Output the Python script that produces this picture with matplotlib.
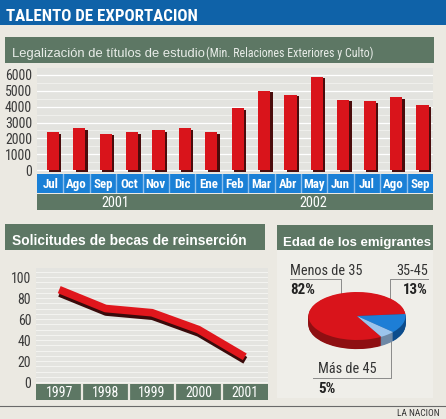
import matplotlib
matplotlib.use('Agg')
import matplotlib.pyplot as plt
from matplotlib import font_manager
from matplotlib.patches import Rectangle
from matplotlib.transforms import offset_copy

# ---------------- data ----------------
months = ['Jul', 'Ago', 'Sep', 'Oct', 'Nov', 'Dic', 'Ene',
          'Feb', 'Mar', 'Abr', 'May', 'Jun', 'Jul', 'Ago', 'Sep']
titulos = [2400, 2650, 2300, 2400, 2500, 2650, 2400,
           3900, 5000, 4750, 5900, 4450, 4350, 4600, 4100]
bar_yticks = [0, 1000, 2000, 3000, 4000, 5000, 6000]
year_groups = ['2001', '2002']
year_group_sizes = [7, 8]

becas_years = ['1997', '1998', '1999', '2000', '2001']
becas = [88, 70, 66, 50, 24]
line_yticks = [0, 20, 40, 60, 80, 100]

edad_labels = ['Menos de 35', '35-45', 'Más de 45']
edad_pct = [82, 13, 5]

# ---------------- fonts ----------------
names = {f.name for f in font_manager.fontManager.ttflist}
cands = ['Liberation Sans Narrow', 'Roboto Condensed', 'DejaVu Sans Condensed',
         'Open Sans Condensed', 'Noto Sans Condensed', 'Arial Narrow']
cond = next((c for c in cands if c in names), None)
if cond is None:
    NARROW = ['Liberation Sans', 'DejaVu Sans']
    NS = 0.84          # shrink factor to mimic narrow widths
else:
    NARROW = [cond, 'Liberation Sans', 'DejaVu Sans']
    NS = 1.0
SANS = ['Liberation Sans', 'DejaVu Sans']

# ---------------- style ----------------
W, H = 446, 419
PAGE = '#ebe9e2'
BLUE_T = '#0f62a8'
GREEN = '#5d7764'
RED = '#d9141b'
BLUE_M = '#1a80d6'

fig = plt.figure(figsize=(W / 100, H / 100), dpi=100, facecolor=PAGE)


def add_ax(x0, y0, x1, y1, **kw):
    return fig.add_axes([x0 / W, 1 - y1 / H, (x1 - x0) / W, (y1 - y0) / H], **kw)


bg = add_ax(0, 0, W, H)
bg.set_xlim(0, W)
bg.set_ylim(H, 0)
bg.axis('off')


def rect(x0, y0, x1, y1, color, **kw):
    bg.add_patch(Rectangle((x0, y0), x1 - x0, y1 - y0, facecolor=color,
                           edgecolor='none', **kw))


# title bar
rect(0, 0, W, 25, BLUE_T)
bg.text(6, 21, 'TALENTO DE EXPORTACION', color='white',
        fontsize=12.2 if cond else 9.9,
        fontweight='bold', family=NARROW, va='baseline', ha='left')

# headers
rect(5, 37, 434, 63, GREEN)
bg.text(12, 57, 'Legalización de títulos de estudio', color='#e9ede9',
        fontsize=9.4, family=SANS, va='baseline')
bg.text(206, 57, '(Min. Relaciones Exteriores y Culto)', color='#e9ede9',
        fontsize=8.6 * NS, family=NARROW, va='baseline')

rect(5, 224, 265, 250, GREEN)
bg.text(12, 245, 'Solicitudes de becas de reinserción', color='white',
        fontsize=9.9, fontweight='bold', family=SANS, va='baseline')

rect(277, 250, 433, 398, '#efeee9')
rect(277, 225, 433, 250, GREEN)
bg.text(283, 246, 'Edad de los emigrantes', color='white',
        fontsize=9.5, fontweight='bold', family=SANS, va='baseline')

# bottom rule and credit
bg.plot([0, W], [406, 406], color='#6a6a6a', lw=0.8)
bg.text(440, 416, 'LA NACION', color='#333333', fontsize=6.8 * NS,
        family=NARROW, ha='right', va='baseline')

# ---------------- bar chart ----------------
n = len(months)
xs = list(range(n))
ax1 = add_ax(37, 68, 433, 173)
ax1.set_facecolor('#e3e3df')
ax1.set_xlim(-0.5, n - 0.5)
ax1.set_ylim(-189, 6442)
ax1.set_yticks(bar_yticks)
ax1.set_yticks([500, 1500, 2500, 3500, 4500, 5500], minor=True)
ax1.grid(axis='y', which='major', color='white', lw=0.9)
ax1.grid(axis='y', which='minor', color='#f2f2ef', lw=0.6)
ax1.set_axisbelow(True)
ax1.set_xticks([])
for s in ax1.spines.values():
    s.set_visible(False)
ax1.tick_params(axis='y', which='both', length=0, pad=3.5,
                labelsize=10 * NS, labelcolor='#3a3a3a')
for lab in ax1.get_yticklabels():
    lab.set_family(NARROW)
shadow_tr = offset_copy(ax1.transData, fig=fig, x=2.5, y=-1.5, units='dots')
bx = [x + 0.1 for x in xs]
ax1.bar(bx, titulos, width=0.46, color='#4a0c0c', transform=shadow_tr, zorder=2)
ax1.bar(bx, titulos, width=0.46, color=RED, zorder=3)

# month strip
axm = add_ax(37, 174, 433, 193)
axm.set_facecolor(BLUE_M)
axm.set_xlim(-0.5, n - 0.5)
axm.set_ylim(0, 1)
axm.set_xticks([])
axm.set_yticks([])
for s in axm.spines.values():
    s.set_visible(False)
for i in range(1, n):
    axm.axvline(i - 0.5, color='#8ec0ee', lw=1)
for i, mo in enumerate(months):
    axm.text(i, 0.45, mo, color='white', fontsize=9.3 * NS, family=NARROW,
             fontweight='bold', ha='center', va='center')

# year strip
axy = add_ax(37, 194, 433, 210)
axy.set_facecolor(GREEN)
axy.set_xlim(-0.5, n - 0.5)
axy.set_ylim(0, 1)
axy.set_xticks([])
axy.set_yticks([])
for s in axy.spines.values():
    s.set_visible(False)
start = 0
for g, size in zip(year_groups, year_group_sizes):
    center = start + (size - 1) / 2 - 0.55
    axy.text(center, 0.45, g, color='white', fontsize=10.3 * NS, family=NARROW,
             ha='center', va='center')
    start += size

# ---------------- line chart ----------------
m = len(becas_years)
lx = list(range(m))
ax2 = add_ax(36, 268, 268, 383)
ax2.set_facecolor('#e4e4e0')
ax2.set_xlim(-0.5, m - 0.5)
ax2.set_ylim(-0.95, 108.6)
ax2.set_yticks(line_yticks)
ax2.set_yticks(list(range(5, 106, 5)), minor=True)
ax2.grid(axis='y', which='both', color='#f4f4f1', lw=0.7)
ax2.set_axisbelow(True)
ax2.set_xticks([])
for s in ax2.spines.values():
    s.set_visible(False)
ax2.tick_params(axis='y', which='both', length=0, pad=3.5,
                labelsize=10 * NS, labelcolor='#3a3a3a')
for lab in ax2.get_yticklabels():
    lab.set_family(NARROW)
sh_tr = offset_copy(ax2.transData, fig=fig, x=0.5, y=-3.5, units='dots')
ax2.plot(lx, becas, color='#3a0b0b', lw=5.5, transform=sh_tr,
         solid_capstyle='butt', solid_joinstyle='round', zorder=3)
ax2.plot(lx, becas, color='#e0161c', lw=5.5, solid_capstyle='butt',
         solid_joinstyle='round', zorder=4)

axy2 = add_ax(36, 384, 268, 400)
axy2.set_facecolor(GREEN)
axy2.set_xlim(-0.5, m - 0.5)
axy2.set_ylim(0, 1)
axy2.set_xticks([])
axy2.set_yticks([])
for s in axy2.spines.values():
    s.set_visible(False)
for i in range(1, m):
    axy2.axvline(i - 0.5, color=PAGE, lw=1.6)
for i, yl in enumerate(becas_years):
    axy2.text(i, 0.45, yl, color='white', fontsize=10 * NS, family=NARROW,
              ha='center', va='center')

# ---------------- pie chart ----------------
LS = 10.3 * NS
bg.plot([290, 341, 341], [279, 279, 296], color='#8a8a8a', lw=0.7)
bg.text(290, 275, edad_labels[0], fontsize=LS, family=NARROW,
        color='#333333', va='baseline')
bg.text(290, 294, f'{edad_pct[0]}%', fontsize=LS + 0.5, family=NARROW,
        fontweight='bold', color='#222222', va='baseline')
bg.plot([428, 390, 390], [279, 279, 315], color='#8a8a8a', lw=0.7)
bg.text(428, 275, edad_labels[1], fontsize=LS, family=NARROW,
        color='#333333', va='baseline', ha='right')
bg.text(428, 294, f'{edad_pct[1]}%', fontsize=LS + 0.5, family=NARROW,
        fontweight='bold', color='#222222', va='baseline', ha='right')
bg.plot([313, 391, 391], [378, 378, 340], color='#8a8a8a', lw=0.7)
bg.text(318, 373, edad_labels[2], fontsize=LS, family=NARROW,
        color='#333333', va='baseline')
bg.text(318, 393, f'{edad_pct[2]}%', fontsize=LS + 0.5, family=NARROW,
        fontweight='bold', color='#222222', va='baseline')

axp = add_ax(300, 276, 414, 356)
axp.patch.set_alpha(0)
top_colors = [RED, '#1d7ed6', '#9cc4ec']
side_colors = ['#8e0f12', '#0c4c8c', '#6d88a6']
depth = 0.38
layers = 14
for k in range(layers, 0, -1):
    axp.pie(edad_pct, colors=side_colors, startangle=300, counterclock=False,
            center=(0, -depth * k / layers), radius=1,
            wedgeprops=dict(linewidth=0))
axp.pie(edad_pct, colors=top_colors, startangle=300, counterclock=False,
        center=(0, 0), radius=1, wedgeprops=dict(linewidth=0))
axp.set_aspect('auto')
axp.set_xlim(-1.175, 1.175)
axp.set_ylim(-1.667, 1.667)
axp.axis('off')

fig.savefig('out.png', dpi=100, facecolor=PAGE)
